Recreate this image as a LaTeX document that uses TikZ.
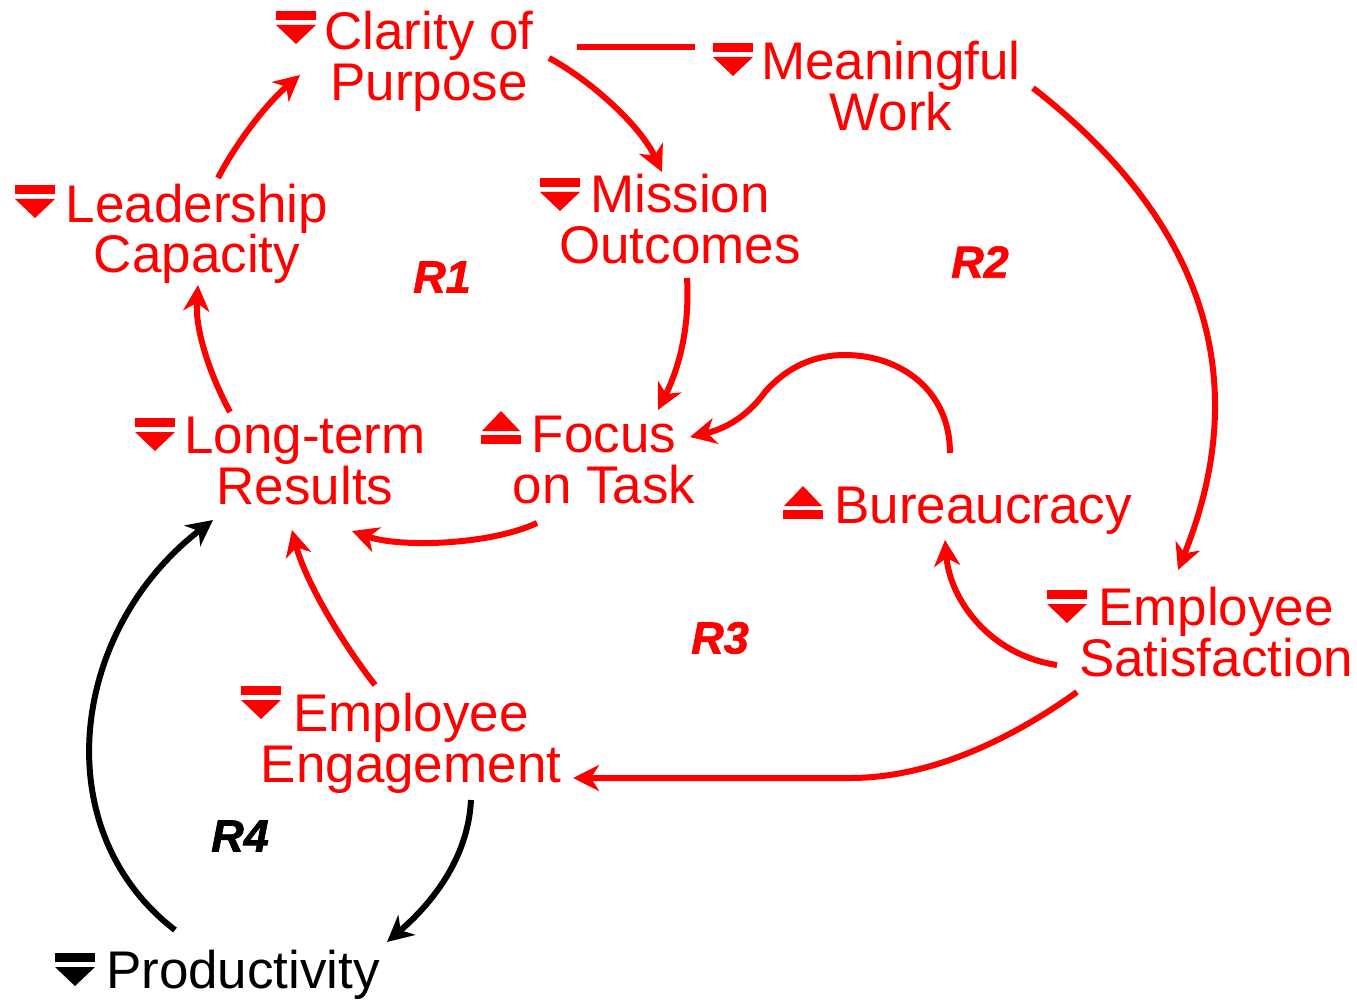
\documentclass[tikz,border=0pt]{standalone}
\usepackage{fontspec}
\setmainfont{Liberation Sans}
\newfontfamily\loopfont{Liberation Sans}[FakeBold=1.5]
\usetikzlibrary{arrows.meta,calc}
\definecolor{cldred}{RGB}{255,0,0}
\tikzset{
  var/.style={text=cldred, font=\fontsize{53}{51}\selectfont, align=center, anchor=base, inner sep=0pt},
  loopname/.style={text=cldred, font=\loopfont\fontsize{45}{45}\selectfont\bfseries\itshape, inner sep=0pt},
  link/.style={draw=cldred, line width=6pt, -{Stealth[length=26pt,width=26pt,inset=8pt]}},
  blink/.style={link, draw=black},
  downsym/.pic={\fill (-20,0) rectangle (20,9); \fill (-20,14) -- (20,14) -- (0,33) -- cycle;},
  upsym/.pic={\fill (0,0) -- (19,20) -- (-19,20) -- cycle; \fill (-20,24) rectangle (20,33);}
}
\begin{document}
\begin{tikzpicture}[x=1pt,y=-1pt]
\useasboundingbox (0,0) rectangle (1357,1000);
% variables (anchor = baseline of last line)
\node[var] (clar) at (429,101) {Clarity of\\Purpose};
\node[var] (mean) at (891,131) {Meaningful\\Work};
\node[var] (miss) at (680,264) {Mission\\Outcomes};
\node[var] (lead) at (197,273) {Leadership\\Capacity};
\node[var] (long) at (305,504) {Long-term\\Results};
\node[var] (focus) at (604,503) {Focus\\on Task};
\node[var] (bur) at (983,523) {Bureaucracy};
\node[var] (sat) at (1216,676) {Employee\\Satisfaction};
\node[var] (eng) at (411,782) {Employee\\Engagement};
\node[var, text=black] (prod) at (243,988) {Productivity};
% polarity symbols
\pic[fill=cldred] at (296,11) {downsym};
\pic[fill=cldred] at (733,43) {downsym};
\pic[fill=cldred] at (560,178) {downsym};
\pic[fill=cldred] at (35,185) {downsym};
\pic[fill=cldred] at (155,418) {downsym};
\pic[fill=cldred] at (501,411) {upsym};
\pic[fill=cldred] at (803,486) {upsym};
\pic[fill=cldred] at (1067,590) {downsym};
\pic[fill=cldred] at (261,686) {downsym};
\pic[fill=black] at (75,953) {downsym};
% loop labels
\node[loopname] (r1) at (442,277) {R1};
\node[loopname] (r2) at (980,262) {R2};
\node[loopname] (r3) at (720,638) {R3};
\node[loopname, text=black] (r4) at (240,836) {R4};
% connectors
\draw[link] ($(lead.base)+(21,-95)$) .. controls (235,145) and (265,105) .. ($(clar.base)+(-129,-26)$);
\draw[link] ($(clar.base)+(120,-43)$) .. controls (590,80) and (640,125) .. ($(miss.base)+(-18,-92)$);
\draw[link] ($(miss.base)+(7,14)$) .. controls (690,330) and (678,370) .. ($(focus.base)+(54,-93)$);
\draw[link] ($(long.base)+(-75,-92)$) .. controls (210,375) and (195,330) .. ($(lead.base)+(1,12)$);
\draw[link] ($(focus.base)+(-67,20)$) .. controls (490,545) and (400,548) .. ($(long.base)+(47,27)$);
\draw[link] ($(mean.base)+(142,-43)$) .. controls (1191,211) and (1260,366) .. ($(sat.base)+(-38,-106)$);
\draw[link] ($(bur.base)+(-33,-70)$) .. controls (950,390) and (900,355) .. (845,355) .. controls (805,355) and (780,375) .. (765,392) .. controls (745,420) and (720,430) .. ($(focus.base)+(86,-66)$);
\draw[link] ($(sat.base)+(-159,-11)$) .. controls (990,655) and (950,600) .. ($(bur.base)+(-38,17)$);
\draw[link] ($(sat.base)+(-139,16)$) .. controls (1010,740) and (930,778) .. (850,778) -- ($(eng.base)+(162,-4)$);
\draw[link] ($(eng.base)+(-36,-97)$) .. controls (340,640) and (305,580) .. ($(long.base)+(-13,26)$);
\draw[blink] ($(eng.base)+(60,18)$) .. controls (468,860) and (430,905) .. ($(prod.base)+(144,-46)$);
\draw[blink] ($(prod.base)+(-68,-58)$) .. controls (45,830) and (70,630) .. ($(long.base)+(-92,16)$);
\draw[draw=cldred, line width=6pt] ($(clar.base)+(148,-54)$) -- ($(mean.base)+(-196,-84)$);
\end{tikzpicture}
\end{document}
